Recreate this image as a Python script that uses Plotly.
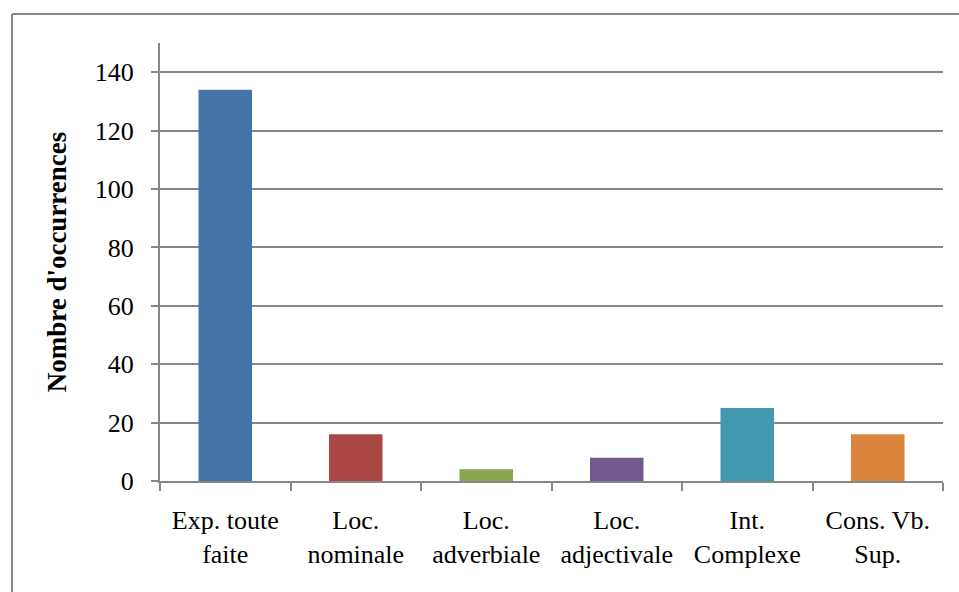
import plotly.graph_objects as go

categories = ["Exp. toute<br>faite", "Loc.<br>nominale", "Loc.<br>adverbiale",
              "Loc.<br>adjectivale", "Int.<br>Complexe", "Cons. Vb.<br>Sup."]
values = [134, 16, 4, 8, 25, 16]
colors = ["#4572A7", "#AA4643", "#89A54E", "#71588F", "#4198AF", "#DB843D"]
y_title = "Nombre d'occurrences"

W, H = 959, 592
L, R, T, B = 160, 16, 43, 111
pw, ph = W - L - R, H - T - B

fig = go.Figure(go.Bar(x=categories, y=values, marker=dict(color=colors, line=dict(width=0)),
                       width=0.41))

fig.update_layout(
    width=W, height=H,
    margin=dict(l=L, r=R, t=T, b=B),
    paper_bgcolor="white", plot_bgcolor="white",
    font=dict(family="Liberation Serif, Times New Roman, serif", size=26, color="black"),
    showlegend=False,
)
fig.update_xaxes(
    type="category", tickson="boundaries", ticks="outside", ticklen=8, tickwidth=2,
    tickcolor="#878787", showline=True, linecolor="#878787", linewidth=2,
    showgrid=False, ticklabelstandoff=15, tickfont=dict(size=26),
)
fig.update_yaxes(
    range=[0, 150], dtick=20, tick0=0, ticks="outside", ticklen=7, tickwidth=2,
    tickcolor="#878787", showline=True, linecolor="#878787", linewidth=2,
    showgrid=True, gridcolor="#878787", gridwidth=2, zeroline=False,
    ticklabelstandoff=12, tickfont=dict(size=26),
    title=dict(text="<b>" + y_title + "</b>", font=dict(size=27), standoff=20),
)
# outer chart border (top and left edges; right and bottom lie outside the picture)
bx0, bx1 = (12 - L) / pw, (1100 - L) / pw
by0, by1 = -(700 - T - ph) / ph, (H - 14 - B) / ph
border = dict(color="#878787", width=2)
fig.add_shape(type="line", xref="paper", yref="paper", x0=bx0, x1=bx1, y0=by1, y1=by1, line=border)
fig.add_shape(type="line", xref="paper", yref="paper", x0=bx0, x1=bx0, y0=by0, y1=by1, line=border)

fig.write_html(
    "out.html",
    config={"displayModeBar": False},
    post_script="document.body.style.margin='0';document.body.style.overflow='hidden';",
)
